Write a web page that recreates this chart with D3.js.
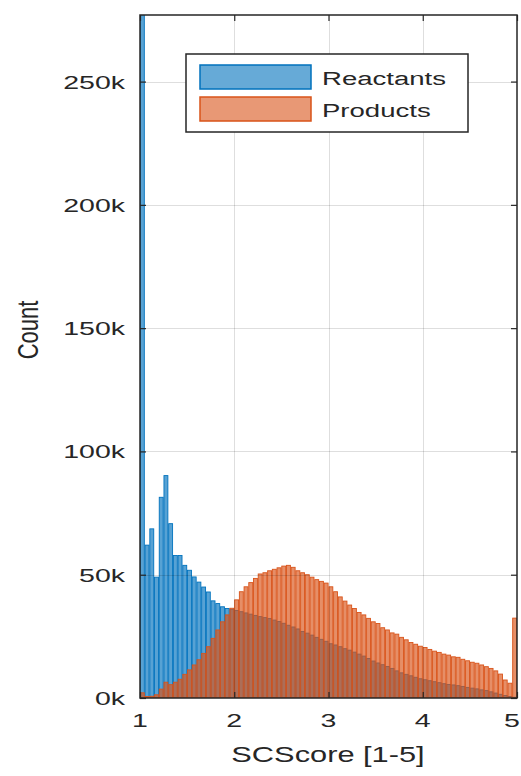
<!DOCTYPE html>
<html>
<head>
<meta charset="utf-8">
<script src="https://cdn.jsdelivr.net/npm/d3@7"></script>
<style>
  html, body { margin: 0; padding: 0; background: #fff; }
  svg { display: block; }
  text { font-family: "Liberation Sans", Arial, Helvetica, sans-serif; fill: #262626; }
</style>
</head>
<body>
<svg id="chart" width="521" height="776"></svg>
<script>
// Histogram bins: SCScore from 1 to 5 in steps of 0.05 (80 bins)
const binStart = 1;
const binWidth = 0.05;

// Counts per bin, in thousands
const reactants = [
  430, 62.0, 68.6, 49.0, 81.4, 90.2, 70.7, 57.8, 57.8, 53.8,
  51.8, 49.1, 47.0, 45.0, 43.0, 39.4, 38.3, 37.0, 36.3, 36.0,
  35.5, 35.0, 34.5, 34.0, 33.5, 33.0, 32.6, 32.2, 31.6, 31.0,
  30.3, 29.5, 28.8, 28.0, 27.0, 26.3, 25.5, 24.6, 23.8, 23.0,
  22.0, 21.5, 20.8, 20.0, 19.4, 18.6, 17.8, 17.0, 16.0, 15.0,
  14.2, 13.5, 12.8, 12.0, 11.0, 10.2, 9.6, 9.0, 8.4, 7.8,
  7.4, 7.0, 6.6, 6.2, 5.8, 5.5, 5.3, 5.0, 4.7, 4.3,
  4.0, 3.7, 3.3, 3.0, 2.5, 2.0, 1.5, 1.0, 0.6, 0.3
];
const products = [
  2.1, 0.6, 0.7, 1.3, 3.6, 6.4, 5.4, 6.4, 7.6, 9.6,
  11.4, 13.4, 15.5, 18.1, 20.8, 24.2, 27.6, 30.9, 33.7, 36.4,
  39.8, 43.1, 45.1, 46.8, 48.5, 50.3, 50.8, 51.6, 52.2, 52.8,
  53.5, 53.8, 53.0, 51.6, 50.8, 50.0, 49.0, 48.0, 47.3, 46.6,
  45.1, 43.1, 41.0, 39.3, 37.7, 36.3, 34.7, 33.7, 32.3, 30.9,
  30.2, 28.5, 27.6, 26.4, 25.9, 24.6, 23.6, 22.5, 21.8, 21.0,
  20.5, 19.7, 19.0, 18.5, 17.8, 17.4, 16.7, 16.5, 15.7, 15.1,
  14.5, 14.1, 13.4, 12.7, 12.0, 11.0, 9.7, 7.3, 6.0, 32.4
];

const seriesNames = ["Reactants", "Products"];
const seriesColors = ["#0072BD", "#D95319"];
const xTicks = [1, 2, 3, 4, 5];
const yTicks = [0, 50, 100, 150, 200, 250];
const xLabel = "SCScore [1-5]";
const yLabel = "Count";

const svg = d3.select("#chart");
const plot = { left: 140, right: 517, top: 15, bottom: 698 };

const x = d3.scaleLinear().domain([1, 5]).range([plot.left, plot.right]);
const y = d3.scaleLinear().domain([0, 277]).range([plot.bottom, plot.top]);

svg.append("defs").append("clipPath").attr("id", "plotClip")
  .append("rect")
  .attr("x", plot.left).attr("y", plot.top)
  .attr("width", plot.right - plot.left).attr("height", plot.bottom - plot.top);

const bars = svg.append("g").attr("clip-path", "url(#plotClip)");

[reactants, products].forEach((vals, s) => {
  bars.append("g")
    .selectAll("rect")
    .data(vals)
    .join("rect")
    .attr("x", (d, i) => x(binStart + i * binWidth) + 0.4)
    .attr("width", (d, i) => x(binStart + (i + 1) * binWidth) - x(binStart + i * binWidth) - 0.8)
    .attr("y", d => y(d))
    .attr("height", d => y(0) - y(d))
    .attr("fill", seriesColors[s])
    .attr("fill-opacity", 0.66)
    .attr("stroke", seriesColors[s])
    .attr("stroke-width", 0.9)
    .attr("stroke-opacity", 1);
});

// Grid lines drawn over the bars
const grid = svg.append("g").attr("stroke", "#000").attr("stroke-opacity", 0.13).attr("stroke-width", 1);
grid.selectAll("line.gx").data(xTicks.slice(1, -1)).join("line")
  .attr("x1", d => Math.round(x(d)) + 0.5).attr("x2", d => Math.round(x(d)) + 0.5)
  .attr("y1", plot.top).attr("y2", plot.bottom);
grid.selectAll("line.gy").data(yTicks.slice(1)).join("line")
  .attr("x1", plot.left).attr("x2", plot.right)
  .attr("y1", d => Math.round(y(d)) + 0.5).attr("y2", d => Math.round(y(d)) + 0.5);

// Axes with inward ticks on all four sides
const tickLen = 6;
const fmt = d => d + "k";
const axisStyle = g => {
  g.select(".domain").remove();
  g.selectAll(".tick line").attr("stroke", "#262626").attr("stroke-width", 1.2);
  g.selectAll(".tick text").remove();
};
svg.append("g").attr("transform", `translate(0,${plot.bottom})`)
  .call(d3.axisBottom(x).tickValues(xTicks).tickSize(-tickLen)).call(axisStyle);
svg.append("g").attr("transform", `translate(0,${plot.top})`)
  .call(d3.axisTop(x).tickValues(xTicks).tickSize(-tickLen)).call(axisStyle);
svg.append("g").attr("transform", `translate(${plot.left},0)`)
  .call(d3.axisLeft(y).tickValues(yTicks).tickSize(-tickLen)).call(axisStyle);
svg.append("g").attr("transform", `translate(${plot.right},0)`)
  .call(d3.axisRight(y).tickValues(yTicks).tickSize(-tickLen)).call(axisStyle);

// Box
svg.append("rect")
  .attr("x", plot.left).attr("y", plot.top)
  .attr("width", plot.right - plot.left).attr("height", plot.bottom - plot.top)
  .attr("fill", "none").attr("stroke", "#262626").attr("stroke-width", 1.5);

// Tick labels (wide typeface)
const sx = 1.5;
svg.append("g").selectAll("text").data(yTicks).join("text")
  .attr("transform", d => `translate(125,${y(d) + 7}) scale(${sx},1)`)
  .attr("text-anchor", "end")
  .attr("font-size", 19)
  .text(fmt);
svg.append("g").selectAll("text").data(xTicks).join("text")
  .attr("transform", d => `translate(${Math.min(x(d), 512)},727) scale(${sx},1)`)
  .attr("text-anchor", "middle")
  .attr("font-size", 19)
  .text(d => d);

// Axis titles
svg.append("text")
  .attr("transform", `translate(328,762) scale(1.4,1)`)
  .attr("text-anchor", "middle")
  .attr("font-size", 22)
  .text(xLabel);
svg.append("text")
  .attr("transform", `translate(38,330) scale(1.37,1) rotate(-90)`)
  .attr("text-anchor", "middle")
  .attr("font-size", 22)
  .text(yLabel);

// Legend
const legend = svg.append("g");
legend.append("rect")
  .attr("x", 186).attr("y", 54).attr("width", 282).attr("height", 78)
  .attr("fill", "#fff").attr("stroke", "#262626").attr("stroke-width", 1.5);
seriesNames.forEach((name, i) => {
  const yy = 65 + i * 32;
  legend.append("rect")
    .attr("x", 200).attr("y", yy).attr("width", 111).attr("height", 24)
    .attr("fill", seriesColors[i]).attr("fill-opacity", 0.6)
    .attr("stroke", seriesColors[i]).attr("stroke-width", 1.5);
  legend.append("text")
    .attr("transform", `translate(322,${yy + 20}) scale(1.45,1)`)
    .attr("font-size", 19)
    .text(name);
});
</script>
</body>
</html>
